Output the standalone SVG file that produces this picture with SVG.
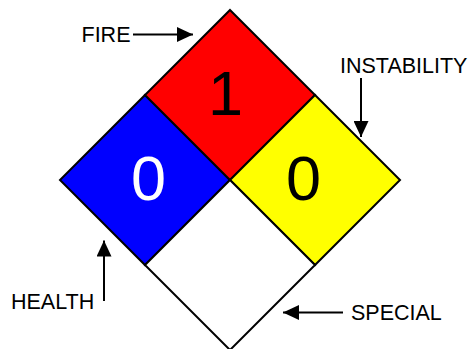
<svg xmlns="http://www.w3.org/2000/svg" width="470" height="349" viewBox="0 0 470 349">
<style>
.q{stroke:#000;stroke-width:2;stroke-linejoin:miter}
.num{font-family:"Liberation Sans",Arial,sans-serif;font-size:63px}
.lbl{font-family:"Liberation Sans",Arial,sans-serif;font-size:21.5px;fill:#000}
.arr{stroke:#000;stroke-width:2;fill:none}
</style>
<defs>
<marker id="ah" markerUnits="userSpaceOnUse" markerWidth="16" markerHeight="15" refX="16" refY="7.5" orient="auto">
<path d="M0,0 L16,7.5 L0,15 Z" fill="#000"/>
</marker>
</defs>
<rect width="470" height="349" fill="#fff"/>
<g id="health">
<polygon class="q" points="145,95 230,180 145,265 60,180" fill="#0000ff"/>
<text class="num" x="148.5" y="199.5" text-anchor="middle" fill="#fff">0</text>
</g>
<g id="fire">
<polygon class="q" points="230,10 315,95 230,180 145,95" fill="#ff0000"/>
<text class="num" x="208" y="115" fill="#000">1</text>
</g>
<g id="instability">
<polygon class="q" points="315,95 400,180 315,265 230,180" fill="#ffff00"/>
<text class="num" x="303.5" y="199.5" text-anchor="middle" fill="#000">0</text>
</g>
<g id="special">
<polygon class="q" points="230,180 315,265 230,350 145,265" fill="#fff"/>
</g>
<g id="label-fire"><text class="lbl" x="81.5" y="42">FIRE</text></g>
<g id="label-instability"><text class="lbl" x="340" y="73">INSTABILITY</text></g>
<g id="label-health"><text class="lbl" x="11" y="309">HEALTH</text></g>
<g id="label-special"><text class="lbl" x="351" y="320">SPECIAL</text></g>
<g id="connectors">
<line class="arr" x1="133" y1="34.5" x2="193" y2="34.5" marker-end="url(#ah)"/>
<line class="arr" x1="361" y1="78" x2="361" y2="137" marker-end="url(#ah)"/>
<line class="arr" x1="104" y1="301" x2="104" y2="240.5" marker-end="url(#ah)"/>
<line class="arr" x1="343" y1="312.5" x2="283" y2="312.5" marker-end="url(#ah)"/>
</g>
</svg>
